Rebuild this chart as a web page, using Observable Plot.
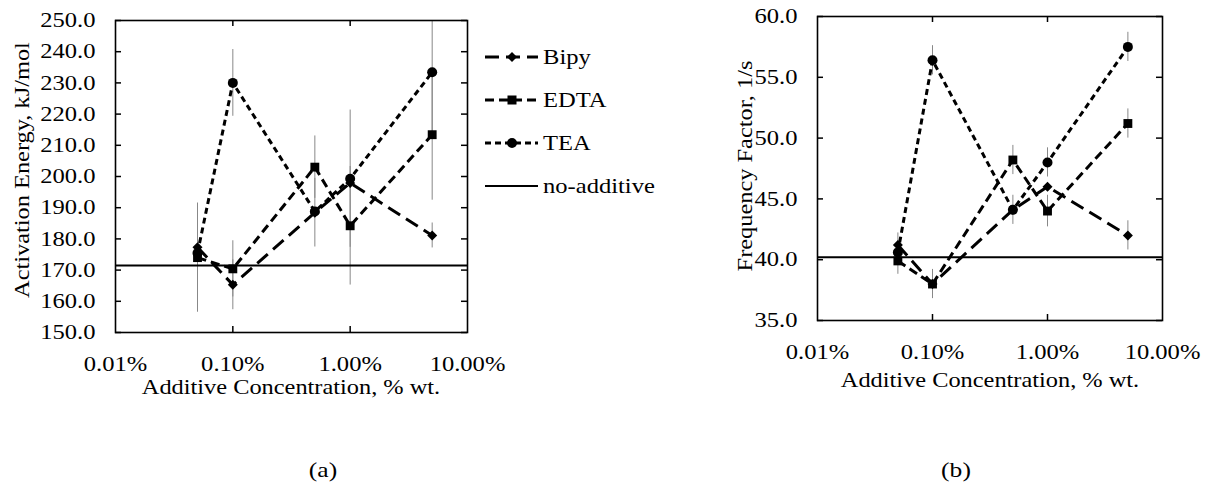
<!DOCTYPE html>
<html>
<head>
<meta charset="utf-8">
<script src="https://cdn.jsdelivr.net/npm/d3@7"></script>
<script src="https://cdn.jsdelivr.net/npm/@observablehq/plot@0.6"></script>
<style>
  html, body { margin: 0; padding: 0; background: #fff; }
  #root { position: relative; width: 1207px; height: 494px; background: #fff; font-family: "Liberation Serif", "Times New Roman", Times, serif; color: #000; overflow: hidden; }
  #root svg, #root svg text { font-family: "Liberation Serif", "Times New Roman", Times, serif !important; }
  .abs { position: absolute; }
  .title { position: absolute; font-size: 21px; white-space: nowrap; transform: translate(-50%, -50%) scaleX(1.16); }
  .ytitle { position: absolute; font-size: 21px; white-space: nowrap; transform: translate(-50%, -50%) rotate(-90deg) scaleX(1.16); }
</style>
</head>
<body>
<div id="root"></div>
<script>
// ---- data ----
const concentrations = [0.05, 0.1, 0.5, 1, 5]; // % wt.
const seriesNames = ["Bipy", "EDTA", "TEA"];
const seriesSymbols = ["diamond2", "square", "circle"];
const seriesDashes = ["14,7", "9,5", "6,4"];

// (a) Activation Energy, kJ/mol
const bipyEa = [177.3, 165.3, 188.4, 197.9, 181.1];
const bipyEaErr = [0, 8, 11, 0, 4];
const edtaEa = [174.0, 170.4, 203.0, 184.2, 213.4];
const edtaEaErr = [17.5, 9, 10, 19, 21];
const teaEa = [175.5, 230.0, 188.8, 199.3, 233.4];
const teaEaErr = [0, 10.7, 0, 22, 20];
const noAdditiveEa = 171.5;

// (b) Frequency Factor, 1/s
const bipyA = [41.2, 38.0, 44.1, 46.0, 42.0];
const bipyAErr = [1.0, 1.2, 1.2, 0, 1.2];
const edtaA = [39.9, 38.0, 48.2, 44.0, 51.2];
const edtaAErr = [1.1, 0, 1.2, 1.3, 1.2];
const teaA = [40.6, 56.4, 44.1, 48.0, 57.5];
const teaAErr = [0, 1.2, 0, 1.2, 1.2];
const noAdditiveA = 40.2;

const xTicks = [0.01, 0.1, 1, 10];
const xTickLabels = ["0.01%", "0.10%", "1.00%", "10.00%"];
const yTicksA = [150, 160, 170, 180, 190, 200, 210, 220, 230, 240, 250];
const yTicksB = [35, 40, 45, 50, 55, 60];

const xTitle = "Additive Concentration, % wt.";
const yTitleA = "Activation Energy, kJ/mol";
const yTitleB = "Frequency Factor, 1/s";

const FONT = "'Liberation Serif', 'Times New Roman', Times, serif";
const STRETCH = 1.17;

function buildRows(valueArrays, errArrays) {
  const rows = [];
  seriesNames.forEach((name, si) => {
    concentrations.forEach((c, i) => {
      rows.push({series: name, c, v: valueArrays[si][i], err: errArrays[si][i]});
    });
  });
  return rows;
}

// widen glyphs horizontally without moving the anchor (must be in the DOM)
function stretchText(svg) {
  svg.querySelectorAll("text").forEach(t => {
    const len = t.getComputedTextLength();
    if (len > 0) {
      t.setAttribute("textLength", (len * STRETCH).toFixed(2));
      t.setAttribute("lengthAdjust", "spacingAndGlyphs");
    }
  });
}

function makePanel({rows, noAdd, yDomain, yTicks, mL, mT, plotW, plotH, mR, mB}) {
  const marks = [];
  marks.push(Plot.ruleX(rows.filter(d => d.err > 0), {
    x: "c", y1: d => d.v - d.err, y2: d => d.v + d.err,
    stroke: "#888", strokeWidth: 1, clip: true
  }));
  marks.push(Plot.ruleY([noAdd], {stroke: "#000", strokeWidth: 2}));
  seriesNames.forEach((name, si) => {
    const sub = rows.filter(d => d.series === name);
    marks.push(Plot.line(sub, {x: "c", y: "v", stroke: "#000", strokeWidth: 3,
      strokeDasharray: seriesDashes[si], strokeLinecap: "butt"}));
  });
  seriesNames.forEach((name, si) => {
    const sub = rows.filter(d => d.series === name);
    marks.push(Plot.dot(sub, {x: "c", y: "v", symbol: seriesSymbols[si], fill: "#000",
      stroke: "none", r: si === 0 ? 4.5 : 5}));
  });
  const interiorX = xTicks.slice(1, -1);
  marks.push(Plot.ruleX(interiorX, {x: d => d, insetBottom: plotH - 6, stroke: "#000", strokeWidth: 1.5}));
  marks.push(Plot.ruleX(interiorX, {x: d => d, insetTop: plotH - 6, stroke: "#000", strokeWidth: 1.5}));
  marks.push(Plot.ruleY(yTicks, {y: d => d, insetRight: plotW - 6, stroke: "#000", strokeWidth: 1.5}));
  marks.push(Plot.ruleY(yTicks, {y: d => d, insetLeft: plotW - 6, stroke: "#000", strokeWidth: 1.5}));
  marks.push(Plot.axisX(xTicks, {tickSize: 0, tickPadding: 24, fontSize: 21,
    tickFormat: d => xTickLabels[xTicks.indexOf(d)], label: null}));
  marks.push(Plot.axisY(yTicks, {tickSize: 0, tickPadding: 20, fontSize: 21,
    tickFormat: d => d.toFixed(1), label: null}));
  marks.push(Plot.frame({stroke: "#000", strokeWidth: 1.6}));

  return Plot.plot({
    width: mL + plotW + mR,
    height: mT + plotH + mB,
    marginLeft: mL, marginRight: mR, marginTop: mT, marginBottom: mB,
    x: {type: "log", domain: [0.01, 10]},
    y: {domain: yDomain},
    style: {fontFamily: FONT, fontSize: "21px", color: "#000", background: "transparent", overflow: "visible"},
    marks
  });
}

const root = document.getElementById("root");

const rowsA = buildRows([bipyEa, edtaEa, teaEa], [bipyEaErr, edtaEaErr, teaEaErr]);
const rowsB = buildRows([bipyA, edtaA, teaA], [bipyAErr, edtaAErr, teaAErr]);

const plotA = makePanel({rows: rowsA, noAdd: noAdditiveEa, yDomain: [150, 250], yTicks: yTicksA,
  mL: 115, mT: 20, plotW: 352, plotH: 312, mR: 40, mB: 80});
const plotB = makePanel({rows: rowsB, noAdd: noAdditiveA, yDomain: [35, 60], yTicks: yTicksB,
  mL: 157, mT: 16, plotW: 345, plotH: 304, mR: 45, mB: 80});

const wrapA = document.createElement("div");
wrapA.className = "abs"; wrapA.style.left = "0px"; wrapA.style.top = "0px";
wrapA.appendChild(plotA);
root.appendChild(wrapA);

const wrapB = document.createElement("div");
wrapB.className = "abs"; wrapB.style.left = "660px"; wrapB.style.top = "0px";
wrapB.appendChild(plotB);
root.appendChild(wrapB);

stretchText(plotA);
stretchText(plotB);

function addText(cls, text, x, y, size) {
  const el = document.createElement("div");
  el.className = cls;
  el.textContent = text;
  el.style.left = x + "px";
  el.style.top = y + "px";
  if (size) el.style.fontSize = size + "px";
  root.appendChild(el);
}
addText("title", xTitle, 291, 387);
addText("title", xTitle, 990, 380);
addText("ytitle", yTitleA, 22, 170);
addText("ytitle", yTitleB, 745, 166);
addText("title", "(a)", 323, 470, 22);
addText("title", "(b)", 956, 470, 22);

// ---- legend ----
const legendLabels = ["Bipy", "EDTA", "TEA", "no-additive"];
const legendY = [57, 100, 143, 186];
const ns = "http://www.w3.org/2000/svg";
const leg = document.createElementNS(ns, "svg");
leg.setAttribute("width", 220); leg.setAttribute("height", 220);
leg.style.position = "absolute"; leg.style.left = "480px"; leg.style.top = "0px";
legendLabels.forEach((lab, i) => {
  const y = legendY[i];
  const line = document.createElementNS(ns, "line");
  line.setAttribute("x1", 5); line.setAttribute("x2", 58);
  line.setAttribute("y1", y); line.setAttribute("y2", y);
  line.setAttribute("stroke", "#000");
  if (i < 3) {
    line.setAttribute("stroke-width", 3);
    line.setAttribute("stroke-dasharray", seriesDashes[i]);
  } else {
    line.setAttribute("stroke-width", 1.8);
  }
  leg.appendChild(line);
  if (i < 3) {
    const cx = 32;
    let sym;
    if (i === 0) {
      sym = document.createElementNS(ns, "polygon");
      sym.setAttribute("points", `${cx},${y-5} ${cx+5},${y} ${cx},${y+5} ${cx-5},${y}`);
    } else if (i === 1) {
      sym = document.createElementNS(ns, "rect");
      sym.setAttribute("x", cx - 4.5); sym.setAttribute("y", y - 4.5);
      sym.setAttribute("width", 9); sym.setAttribute("height", 9);
    } else {
      sym = document.createElementNS(ns, "circle");
      sym.setAttribute("cx", cx); sym.setAttribute("cy", y); sym.setAttribute("r", 5);
    }
    sym.setAttribute("fill", "#000");
    leg.appendChild(sym);
  }
  const t = document.createElementNS(ns, "text");
  t.setAttribute("transform", `translate(63,${y}) scale(${STRETCH},1)`);
  t.setAttribute("dy", "0.35em");
  t.setAttribute("font-size", 21);
  t.textContent = lab;
  leg.appendChild(t);
});
root.appendChild(leg);
</script>
</body>
</html>
